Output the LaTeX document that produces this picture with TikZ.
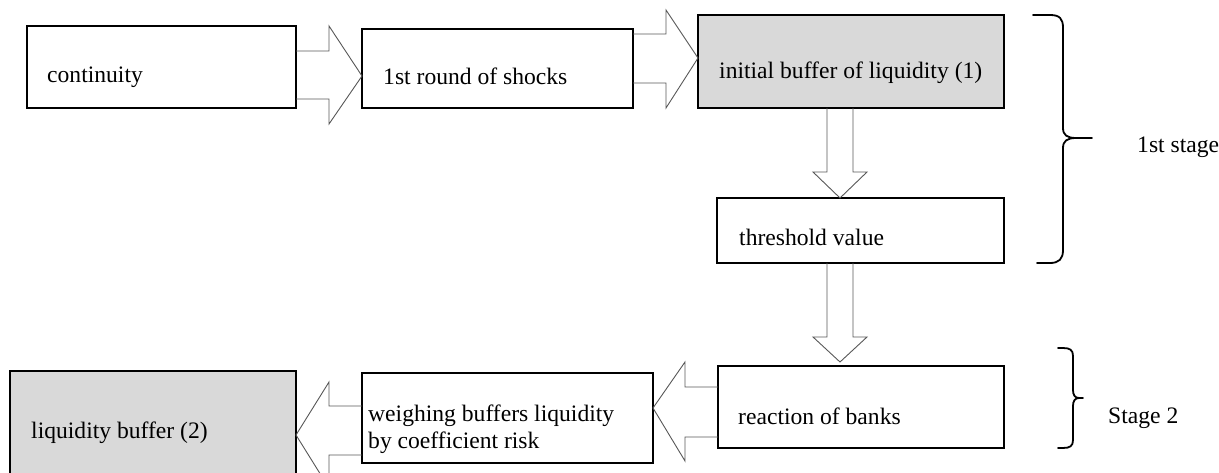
\documentclass[tikz,border=0pt]{standalone}
\usepackage{fontspec}
\setmainfont{Liberation Serif}
\definecolor{boxgray}{HTML}{D9D9D9}
\begin{document}
\begin{tikzpicture}[x=1pt,y=-1pt,
  box/.style={draw=black, line width=1.8pt, inner sep=0pt, outer sep=0pt, anchor=north west},
  gbox/.style={box, fill=boxgray},
  blk/.style={draw=black!66, line width=0.9pt, line join=miter},
  lbl/.style={anchor=base west, inner sep=0pt, font=\fontsize{23.6}{27}\selectfont},
  brc/.style={draw=black, line width=1.8pt, line cap=round}]
\useasboundingbox (0,0) rectangle (1219,473);
\clip (0,0) rectangle (1219,473);
% boxes
\node[box,  minimum width=269pt, minimum height=82pt] (cont)  at (27,26)  {};
\node[box,  minimum width=271pt, minimum height=79pt] (r1)    at (362,29) {};
\node[gbox, minimum width=306pt, minimum height=93pt] (init)  at (698,15) {};
\node[box,  minimum width=287pt, minimum height=65pt] (thr)   at (717,198) {};
\node[box,  minimum width=286pt, minimum height=82pt] (react) at (718,366) {};
\node[box,  minimum width=291pt, minimum height=90pt] (weigh) at (362,373) {};
\node[gbox, minimum width=286pt, minimum height=140pt] (liq)  at (10,371) {};
% texts
\node[lbl] (tcont)  at (47,83)   {continuity};
\node[lbl] (tr1)    at (383,85)  {1st round of shocks};
\node[lbl] (tinit)  at (719,79)  {initial buffer of liquidity (1)};
\node[lbl] (tthr)   at (739,246) {threshold value};
\node[lbl] (treact) at (738,424) {reaction of banks};
\node[lbl] (tw1)    at (368,421) {weighing buffers liquidity};
\node[lbl] (tw2)    at (368,448) {by coefficient risk};
\node[lbl] (tliq)   at (31,438)  {liquidity buffer (2)};
\node[lbl] (tst1)   at (1137,153) {1st stage};
\node[lbl] (tst2)   at (1108,423) {Stage 2};
% block arrows
\draw[blk] (cont.east |- 0,51) -- (329,51) -- (329,26) -- (r1.west |- 0,76)
  -- (329,124) -- (329,99) -- (cont.east |- 0,99);
\draw[blk] (r1.east |- 0,34) -- (666,34) -- (666,10) -- (init.west |- 0,58)
  -- (666,108) -- (666,83) -- (r1.east |- 0,83);
\draw[blk] (827,0 |- init.south) -- (827,172) -- (813,172) -- (840,0 |- thr.north)
  -- (867,172) -- (853,172) -- (853,0 |- init.south);
\draw[blk] (827,0 |- thr.south) -- (827,337) -- (813,337) -- (840,362)
  -- (867,337) -- (853,337) -- (853,0 |- thr.south);
\draw[blk] (react.west |- 0,387) -- (685,387) -- (685,362) -- (weigh.east |- 0,408)
  -- (685,461) -- (685,437) -- (react.west |- 0,437);
\draw[blk] (weigh.west |- 0,406) -- (329,406) -- (329,382) -- (liq.east |- 0,435)
  -- (329,488) -- (329,455) -- (weigh.west |- 0,455);
% braces
\draw[brc] (1033,15) -- (1050,15) .. controls (1060,15) and (1063,19) .. (1063,28)
  -- (1063,128) .. controls (1063,135) and (1067,138) .. (1076,138) -- (1092,138);
\draw[brc] (1076,138) .. controls (1067,138) and (1063,141) .. (1063,148)
  -- (1063,250) .. controls (1063,259) and (1059,263) .. (1050,263) -- (1037,263);
\draw[brc] (1058,348) -- (1063,348) .. controls (1070,348) and (1073,350) .. (1073,356)
  -- (1073,390) .. controls (1073,395) and (1075,398) .. (1079,398) -- (1083,398);
\draw[brc] (1079,398) .. controls (1075,398) and (1073,401) .. (1073,406)
  -- (1073,440) .. controls (1073,446) and (1070,448) .. (1063,448) -- (1058,448);
\end{tikzpicture}
\end{document}
